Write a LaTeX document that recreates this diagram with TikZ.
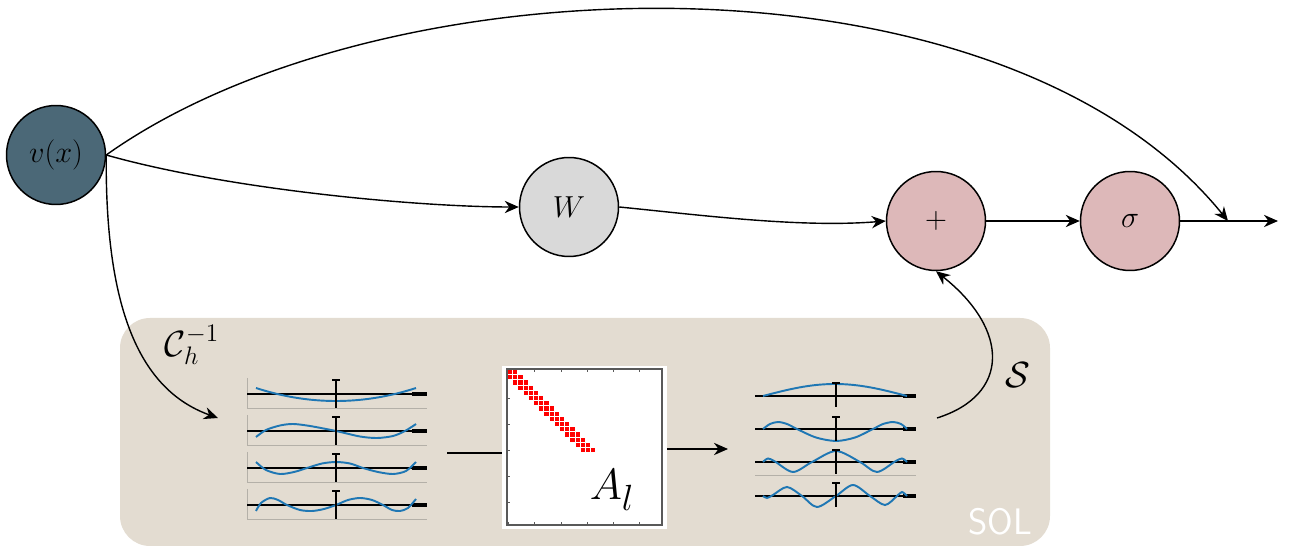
\documentclass[tikz,border=0pt]{standalone}
\usetikzlibrary{arrows.meta}
\definecolor{vcol}{HTML}{4B6877}
\definecolor{wcol}{HTML}{D9D9D9}
\definecolor{pcol}{HTML}{DDB8B9}
\definecolor{solbg}{HTML}{E3DCD1}
\definecolor{mplblue}{HTML}{1F77B4}
\definecolor{framegray}{HTML}{B4B0A8}
\begin{document}
\begin{tikzpicture}[x=0.02cm,y=-0.02cm,
  opnode/.style={circle, draw=black, line width=0.85pt, minimum size=1.98cm, inner sep=0pt},
  arr/.style={line width=0.8pt, -{Stealth[length=8pt,width=7pt]}},
  conn/.style={line width=0.8pt},
  axisline/.style={line width=1.1pt, black},
  axisend/.style={line width=2.2pt, black},
  vline/.style={line width=0.9pt, black},
  bcurve/.style={line width=1.1pt, mplblue},
  pframe/.style={line width=0.5pt, framegray},
  bigmath/.style={font=\fontsize{20}{24}\selectfont, inner sep=1pt}
]
\useasboundingbox (0,0) rectangle (1289,550);

% SOL background
\fill[solbg, rounded corners=0.6cm] (120,318) rectangle (1050,546);
\node[text=white, font=\sffamily\fontsize{21}{24}\selectfont] (sol) at (1000,522) {SOL};

% main nodes
\node[opnode, fill=vcol, font=\fontsize{19}{22}\selectfont] (v) at (56,155) {$v(x)$};
\node[opnode, fill=wcol, font=\fontsize{16}{19}\selectfont] (W) at (569,207) {$W$};
\node[opnode, fill=pcol, font=\fontsize{16}{19}\selectfont] (plus) at (936,221) {$+$};
\node[opnode, fill=pcol, font=\fontsize{16}{19}\selectfont] (sig) at (1130,221) {$\sigma$};

\coordinate (out) at (1278,221);
\coordinate (join) at (1228,221);
\coordinate (cin) at (218,418);
\coordinate (sstart) at (937,418);
\coordinate (lend) at (447,453);
\coordinate (rin) at (728,449);

% connectors
\draw[arr] (sig) -- (out);
\draw[arr] (plus) -- (sig);
\draw[arr] (v.east) .. controls (380,-40) and (1000,-60) .. (join);
\draw[arr] (v.east) .. controls (230,190) and (420,207) .. (W.west);
\draw[arr] (W.east) .. controls (700,215) and (800,228) .. (plus.west);
\draw[arr] (v.east) .. controls (105,310) and (140,390) .. (cin);
\draw[arr] (sstart) .. controls (1010,395) and (1010,330) .. (plus.south);

% labels
\node[bigmath] (clab) at (192,345) {$\mathcal{C}_h^{-1}$};
\node[bigmath] (slab) at (1018,375) {$\mathcal{S}$};

% ---------- left panel ----------
\node[inner sep=0pt, minimum width=3.6cm, minimum height=2.82cm] (lp) at (337,448) {};
% frames
\draw[pframe] (247,378) -- (247,408) -- (427,408);
\draw[pframe] (247,415) -- (247,445) -- (427,445);
\draw[pframe] (247,452) -- (247,482) -- (427,482);
\draw[pframe] (247,489) -- (247,519) -- (427,519);
% sub 1
\draw[axisline] (247,394) -- (427,394); \draw[axisend] (412,394) -- (427,394);
\draw[bcurve] plot[domain=-1:1, samples=41] ({336+80*\x},{401-13*\x*\x});
\draw[vline] (336,408) -- (336,380); \draw[vline] (332,380) -- (340,380);
% sub 2
\draw[axisline] (247,431) -- (427,431); \draw[axisend] (412,431) -- (427,431);
\draw[bcurve] plot[smooth] coordinates {(256,437) (266,430) (280,425.5) (293,424) (310,426) (336,431) (360,436.5) (377,438) (393,436) (405,431) (416,424)};
\draw[vline] (336,445) -- (336,417); \draw[vline] (332,417) -- (340,417);
% sub 3
\draw[axisline] (247,468) -- (427,468); \draw[axisend] (412,468) -- (427,468);
\draw[bcurve] plot[smooth] coordinates {(256,462) (266,470) (280,474) (294,472) (307,468) (322,463.5) (336,462) (350,463.5) (363,468) (378,472) (393,474) (406,471) (416,462)};
\draw[vline] (336,482) -- (336,454); \draw[vline] (332,454) -- (340,454);
% sub 4
\draw[axisline] (247,505) -- (427,505); \draw[axisend] (412,505) -- (427,505);
\draw[bcurve] plot[smooth] coordinates {(256,511) (261,503) (270,498) (278,500) (287,505) (300,510) (312,511) (324,509) (336,505) (348,500) (360,498) (372,500) (383,505) (392,510) (400,511) (408,508) (416,499)};
\draw[vline] (336,519) -- (336,491); \draw[vline] (332,491) -- (340,491);

% ---------- matrix ----------
\node[fill=white, inner sep=0pt, minimum width=3.3cm, minimum height=3.26cm] (mat) at (584.5,447.5) {};
\draw[line width=0.6pt, black!65] (507,369) rectangle (662,525);
\foreach \t in {508,534,561,587,613,639}{
  \draw[line width=0.5pt, black!65] (\t,369) -- (\t,372);
  \draw[line width=0.5pt, black!65] (\t,525) -- (\t,522);
}
\foreach \t in {372,398,424,450,476,502}{
  \draw[line width=0.5pt, black!65] (507,\t) -- (510,\t);
}
\foreach \r in {0,...,15}{
  \foreach \d in {-1,0,1}{
    \pgfmathtruncatemacro\c{\r+\d}
    \ifnum\c>-1
      \fill[red] ({508+\c*5.2},{370+\r*5.2}) rectangle ++(4.2,4.2);
    \fi
  }
}
\node[font=\fontsize{30}{34}\selectfont] (alab) at (612,490) {$A_l$};

% ---------- right panel ----------
\node[inner sep=0pt, minimum width=3.22cm, minimum height=2.74cm] (rp) at (835.5,441.5) {};
\draw[pframe] (755,475) -- (916,475);
% sub 1
\draw[axisline] (755,396) -- (916,396); \draw[axisend] (903,396) -- (916,396);
\draw[bcurve] plot[domain=0:1, samples=41] ({763+144*\x},{396-12*sin(180*\x)});
\draw[vline] (836,407) -- (836,383); \draw[vline] (832,383) -- (840,383);
% sub 2
\draw[axisline] (755,429) -- (916,429); \draw[axisend] (903,429) -- (916,429);
\draw[bcurve] plot[smooth] coordinates {(763,429) (770,424) (778,422) (787,424) (797,429) (816,437.5) (836,441) (855,437.5) (873,429) (883,424) (893,422) (901,424) (907,429)};
\draw[vline] (836,441) -- (836,417); \draw[vline] (832,417) -- (840,417);
% sub 3
\draw[axisline] (755,462) -- (916,462); \draw[axisend] (903,462) -- (916,462);
\draw[bcurve] plot[smooth] coordinates {(763,462) (768,458.5) (775,461.5) (793,472) (812,462) (836,451) (860,462) (877,472) (895,461.5) (902,458.5) (907,462)};
\draw[vline] (836,474) -- (836,450); \draw[vline] (832,450) -- (840,450);
% sub 4
\draw[axisline] (755,496) -- (916,496); \draw[axisend] (903,496) -- (916,496);
\draw[bcurve] plot[smooth] coordinates {(763,496) (767,498) (773,495) (787,487) (802,496) (817,507) (836,496) (853,485) (870,496) (885,505) (897,496) (902,492) (907,496)};
\draw[vline] (836,507) -- (836,483); \draw[vline] (832,483) -- (840,483);

% panel connectors
\draw[conn] (lend) -- (lend -| mat.west);
\draw[arr] (mat.east |- rin) -- (rin);
\end{tikzpicture}
\end{document}
